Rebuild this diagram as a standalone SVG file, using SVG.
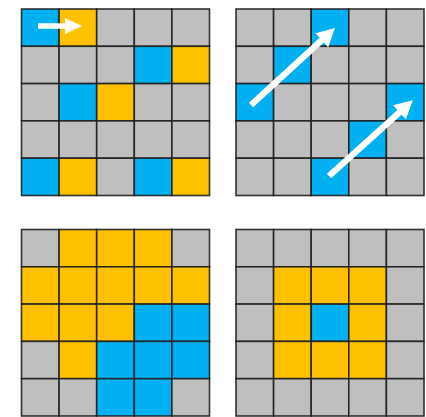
<svg xmlns="http://www.w3.org/2000/svg" width="426" height="417" viewBox="0 0 426 417">
<style>
rect{stroke:#1e1e1e;stroke-width:1.6;stroke-opacity:0.9}
.g{fill:#BFBFBF}.b{fill:#00B0F0}.y{fill:#FFC000}
.arrow{fill:#FFFFFF;stroke:none}
</style>
<rect x="0" y="0" width="426" height="417" fill="#FFFFFF" style="stroke:none"/>
<g id="grid1" transform="translate(21.5,9)">
<rect class="b" x="0" y="0" width="37.6" height="37.3"/><rect class="y" x="37.6" y="0" width="37.6" height="37.3"/><rect class="g" x="75.2" y="0" width="37.6" height="37.3"/><rect class="g" x="112.8" y="0" width="37.6" height="37.3"/><rect class="g" x="150.4" y="0" width="37.6" height="37.3"/>
<rect class="g" x="0" y="37.3" width="37.6" height="37.3"/><rect class="g" x="37.6" y="37.3" width="37.6" height="37.3"/><rect class="g" x="75.2" y="37.3" width="37.6" height="37.3"/><rect class="b" x="112.8" y="37.3" width="37.6" height="37.3"/><rect class="y" x="150.4" y="37.3" width="37.6" height="37.3"/>
<rect class="g" x="0" y="74.6" width="37.6" height="37.3"/><rect class="b" x="37.6" y="74.6" width="37.6" height="37.3"/><rect class="y" x="75.2" y="74.6" width="37.6" height="37.3"/><rect class="g" x="112.8" y="74.6" width="37.6" height="37.3"/><rect class="g" x="150.4" y="74.6" width="37.6" height="37.3"/>
<rect class="g" x="0" y="111.9" width="37.6" height="37.3"/><rect class="g" x="37.6" y="111.9" width="37.6" height="37.3"/><rect class="g" x="75.2" y="111.9" width="37.6" height="37.3"/><rect class="g" x="112.8" y="111.9" width="37.6" height="37.3"/><rect class="g" x="150.4" y="111.9" width="37.6" height="37.3"/>
<rect class="b" x="0" y="149.2" width="37.6" height="37.3"/><rect class="y" x="37.6" y="149.2" width="37.6" height="37.3"/><rect class="g" x="75.2" y="149.2" width="37.6" height="37.3"/><rect class="b" x="112.8" y="149.2" width="37.6" height="37.3"/><rect class="y" x="150.4" y="149.2" width="37.6" height="37.3"/>
</g>
<g id="grid2" transform="translate(236,9)">
<rect class="g" x="0" y="0" width="37.6" height="37.3"/><rect class="g" x="37.6" y="0" width="37.6" height="37.3"/><rect class="b" x="75.2" y="0" width="37.6" height="37.3"/><rect class="g" x="112.8" y="0" width="37.6" height="37.3"/><rect class="g" x="150.4" y="0" width="37.6" height="37.3"/>
<rect class="g" x="0" y="37.3" width="37.6" height="37.3"/><rect class="b" x="37.6" y="37.3" width="37.6" height="37.3"/><rect class="g" x="75.2" y="37.3" width="37.6" height="37.3"/><rect class="g" x="112.8" y="37.3" width="37.6" height="37.3"/><rect class="g" x="150.4" y="37.3" width="37.6" height="37.3"/>
<rect class="b" x="0" y="74.6" width="37.6" height="37.3"/><rect class="g" x="37.6" y="74.6" width="37.6" height="37.3"/><rect class="g" x="75.2" y="74.6" width="37.6" height="37.3"/><rect class="g" x="112.8" y="74.6" width="37.6" height="37.3"/><rect class="b" x="150.4" y="74.6" width="37.6" height="37.3"/>
<rect class="g" x="0" y="111.9" width="37.6" height="37.3"/><rect class="g" x="37.6" y="111.9" width="37.6" height="37.3"/><rect class="g" x="75.2" y="111.9" width="37.6" height="37.3"/><rect class="b" x="112.8" y="111.9" width="37.6" height="37.3"/><rect class="g" x="150.4" y="111.9" width="37.6" height="37.3"/>
<rect class="g" x="0" y="149.2" width="37.6" height="37.3"/><rect class="g" x="37.6" y="149.2" width="37.6" height="37.3"/><rect class="b" x="75.2" y="149.2" width="37.6" height="37.3"/><rect class="g" x="112.8" y="149.2" width="37.6" height="37.3"/><rect class="g" x="150.4" y="149.2" width="37.6" height="37.3"/>
</g>
<g id="grid3" transform="translate(21.5,229.5)">
<rect class="g" x="0" y="0" width="37.6" height="37.3"/><rect class="y" x="37.6" y="0" width="37.6" height="37.3"/><rect class="y" x="75.2" y="0" width="37.6" height="37.3"/><rect class="y" x="112.8" y="0" width="37.6" height="37.3"/><rect class="g" x="150.4" y="0" width="37.6" height="37.3"/>
<rect class="y" x="0" y="37.3" width="37.6" height="37.3"/><rect class="y" x="37.6" y="37.3" width="37.6" height="37.3"/><rect class="y" x="75.2" y="37.3" width="37.6" height="37.3"/><rect class="y" x="112.8" y="37.3" width="37.6" height="37.3"/><rect class="y" x="150.4" y="37.3" width="37.6" height="37.3"/>
<rect class="y" x="0" y="74.6" width="37.6" height="37.3"/><rect class="y" x="37.6" y="74.6" width="37.6" height="37.3"/><rect class="y" x="75.2" y="74.6" width="37.6" height="37.3"/><rect class="b" x="112.8" y="74.6" width="37.6" height="37.3"/><rect class="b" x="150.4" y="74.6" width="37.6" height="37.3"/>
<rect class="g" x="0" y="111.9" width="37.6" height="37.3"/><rect class="y" x="37.6" y="111.9" width="37.6" height="37.3"/><rect class="b" x="75.2" y="111.9" width="37.6" height="37.3"/><rect class="b" x="112.8" y="111.9" width="37.6" height="37.3"/><rect class="b" x="150.4" y="111.9" width="37.6" height="37.3"/>
<rect class="g" x="0" y="149.2" width="37.6" height="37.3"/><rect class="g" x="37.6" y="149.2" width="37.6" height="37.3"/><rect class="b" x="75.2" y="149.2" width="37.6" height="37.3"/><rect class="b" x="112.8" y="149.2" width="37.6" height="37.3"/><rect class="g" x="150.4" y="149.2" width="37.6" height="37.3"/>
</g>
<g id="grid4" transform="translate(236,229.5)">
<rect class="g" x="0" y="0" width="37.6" height="37.3"/><rect class="g" x="37.6" y="0" width="37.6" height="37.3"/><rect class="g" x="75.2" y="0" width="37.6" height="37.3"/><rect class="g" x="112.8" y="0" width="37.6" height="37.3"/><rect class="g" x="150.4" y="0" width="37.6" height="37.3"/>
<rect class="g" x="0" y="37.3" width="37.6" height="37.3"/><rect class="y" x="37.6" y="37.3" width="37.6" height="37.3"/><rect class="y" x="75.2" y="37.3" width="37.6" height="37.3"/><rect class="y" x="112.8" y="37.3" width="37.6" height="37.3"/><rect class="g" x="150.4" y="37.3" width="37.6" height="37.3"/>
<rect class="g" x="0" y="74.6" width="37.6" height="37.3"/><rect class="y" x="37.6" y="74.6" width="37.6" height="37.3"/><rect class="b" x="75.2" y="74.6" width="37.6" height="37.3"/><rect class="y" x="112.8" y="74.6" width="37.6" height="37.3"/><rect class="g" x="150.4" y="74.6" width="37.6" height="37.3"/>
<rect class="g" x="0" y="111.9" width="37.6" height="37.3"/><rect class="y" x="37.6" y="111.9" width="37.6" height="37.3"/><rect class="y" x="75.2" y="111.9" width="37.6" height="37.3"/><rect class="y" x="112.8" y="111.9" width="37.6" height="37.3"/><rect class="g" x="150.4" y="111.9" width="37.6" height="37.3"/>
<rect class="g" x="0" y="149.2" width="37.6" height="37.3"/><rect class="g" x="37.6" y="149.2" width="37.6" height="37.3"/><rect class="g" x="75.2" y="149.2" width="37.6" height="37.3"/><rect class="g" x="112.8" y="149.2" width="37.6" height="37.3"/><rect class="g" x="150.4" y="149.2" width="37.6" height="37.3"/>
</g>
<g id="arrows">
<path class="arrow" transform="translate(38,26)" d="M0,-2.7 H27 V-8 L44,0 L27,8 V2.7 H0 Z"/>
<path class="arrow" transform="translate(251,105) rotate(-42.5)" d="M0,-3.2 H96 V-9.5 L114,0 L96,9.5 V3.2 H0 Z"/>
<path class="arrow" transform="translate(329,176) rotate(-42.1)" d="M0,-3.2 H95 V-9.5 L113,0 L95,9.5 V3.2 H0 Z"/>
</g>
</svg>
